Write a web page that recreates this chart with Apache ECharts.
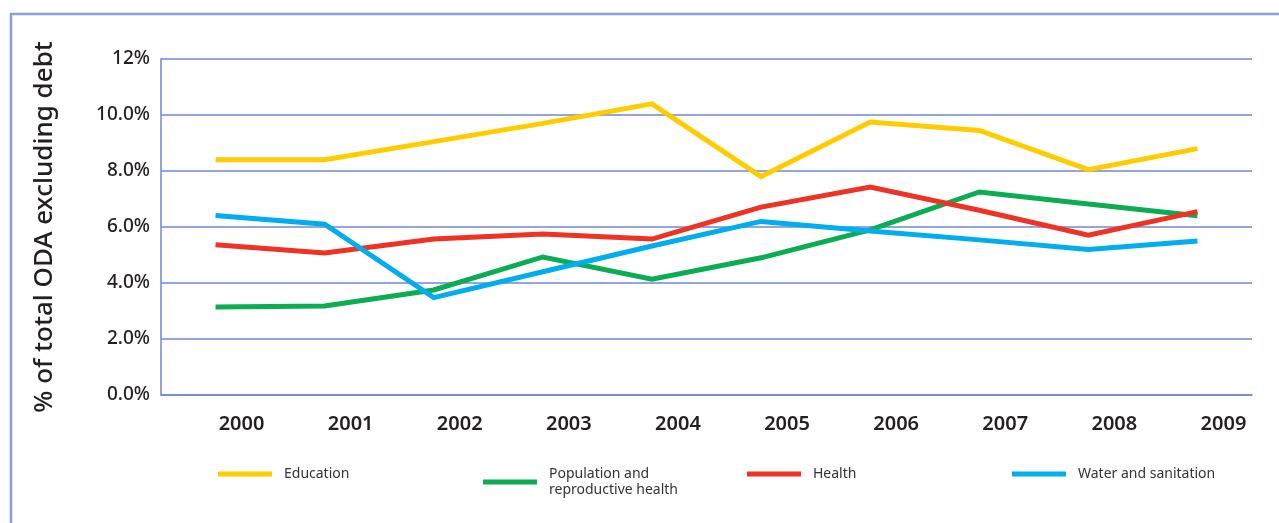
<!DOCTYPE html>
<html>
<head>
<meta charset="utf-8">
<script src="https://cdn.jsdelivr.net/npm/echarts@6/dist/echarts.min.js"></script>
<style>
  html, body { margin: 0; padding: 0; background: #ffffff; }
  #chart { width: 1279px; height: 523px; }
</style>
</head>
<body>
<div id="chart"></div>
<script>
const categories = ['2000', '2001', '2002', '2003', '2004', '2005', '2006', '2007', '2008', '2009'];
const education = [8.4, 8.4, 9.05, 9.7, 10.4, 7.8, 9.75, 9.45, 8.05, 8.8];
const population = [3.14, 3.18, 3.75, 4.93, 4.14, 4.9, 5.9, 7.25, 6.82, 6.4];
const health = [5.37, 5.07, 5.57, 5.75, 5.57, 6.71, 7.43, 6.6, 5.71, 6.55];
const water = [6.41, 6.1, 3.48, 4.4, 5.32, 6.2, 5.86, 5.54, 5.2, 5.5];
const yTickLabels = ['0.0%', '2.0%', '4.0%', '6.0%', '8.0%', '10.0%', '12%'];
const seriesNames = ['Education', 'Population and\nreproductive health', 'Health', 'Water and sanitation'];
const colors = ['#ffcc00', '#0aad52', '#ee3224', '#00adef'];

const chart = echarts.init(document.getElementById('chart'), null, { renderer: 'canvas' });
const font = 'Noto Sans, Open Sans, sans-serif';
const gridColor = '#7088cc';

const legendLefts = [218, 483, 747, 1012];
const legends = seriesNames.map((n, i) => ({
  data: [n],
  left: legendLefts[i],
  top: 465,
  orient: 'horizontal',
  icon: 'rect',
  itemWidth: 54,
  itemHeight: 5,
  itemGap: 0,
  padding: 0,
  selectedMode: false,
  textStyle: { fontFamily: font, fontSize: 14, color: '#333333', padding: [2, 0, 0, 7], lineHeight: 16, verticalAlign: 'top' }
}));

const dataSets = [education, population, health, water];

chart.setOption({
  animation: false,
  backgroundColor: '#ffffff',
  graphic: [{
    type: 'rect',
    shape: { x: 11, y: 14, width: 1400, height: 700 },
    style: { fill: 'none', stroke: '#8a9fd2', lineWidth: 2.5 },
    z: 0
  }],
  grid: { left: 161, right: 27, top: 59, bottom: 128, containLabel: false },
  legend: legends,
  xAxis: {
    type: 'category',
    data: categories,
    boundaryGap: true,
    axisLine: { show: true, lineStyle: { color: gridColor, width: 1.5 } },
    axisTick: { show: false },
    axisLabel: {
      margin: 19,
      padding: [0, 0, 0, 52],
      fontFamily: font,
      fontSize: 20,
      fontWeight: 600,
      color: '#231f20'
    }
  },
  yAxis: {
    type: 'value',
    min: 0,
    max: 12,
    interval: 2,
    name: '% of total ODA excluding debt',
    nameLocation: 'middle',
    nameRotate: 90,
    nameGap: 103,
    nameTextStyle: { fontFamily: font, fontSize: 26, fontWeight: 500, color: '#231f20' },
    axisLine: { show: true, lineStyle: { color: gridColor, width: 1.5 } },
    axisTick: { show: false },
    splitLine: { show: true, lineStyle: { color: gridColor, width: 1.5, opacity: 1 } },
    axisLabel: {
      margin: 11,
      fontFamily: font,
      fontSize: 19,
      fontWeight: 500,
      color: '#231f20',
      formatter: (v) => yTickLabels[Math.round(v / 2)]
    }
  },
  series: dataSets.map((d, i) => ({
    name: seriesNames[i],
    type: 'line',
    data: d,
    showSymbol: false,
    symbol: 'none',
    smooth: false,
    lineStyle: { color: colors[i], width: 5, cap: 'butt', join: 'miter' },
    itemStyle: { color: colors[i] },
    emphasis: { disabled: true }
  }))
});
</script>
</body>
</html>
